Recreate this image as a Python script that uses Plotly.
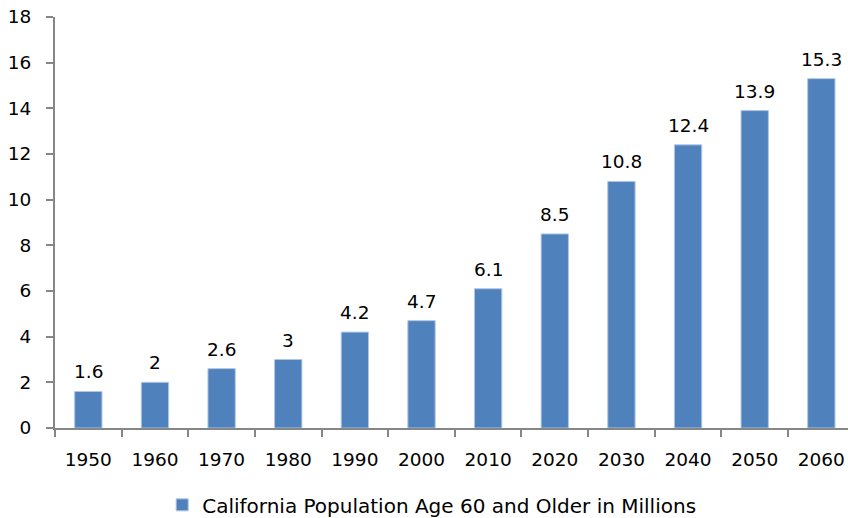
import plotly.graph_objects as go

years = ["1950", "1960", "1970", "1980", "1990", "2000", "2010", "2020", "2030", "2040", "2050", "2060"]
values = [1.6, 2, 2.6, 3, 4.2, 4.7, 6.1, 8.5, 10.8, 12.4, 13.9, 15.3]
labels = ["1.6", "2", "2.6", "3", "4.2", "4.7", "6.1", "8.5", "10.8", "12.4", "13.9", "15.3"]
series_name = "California Population Age 60 and Older in Millions"

FONT = "DejaVu Sans"
FS = 18.5
axis_color = "#868686"

fig = go.Figure(go.Bar(
    x=years, y=values, name=series_name,
    marker=dict(color="#4F81BD", line=dict(width=1, color="#B0C6E2")),
    showlegend=True,
))

for i, (v, lab) in enumerate(zip(values, labels)):
    fig.add_annotation(x=i, y=v, xref="x", yref="y", text=lab, showarrow=False,
                       yanchor="bottom", yshift=7,
                       font=dict(family=FONT, size=FS, color="#000000"))

fig.update_layout(
    width=848, height=518,
    margin=dict(l=55, r=0, t=17, b=90, autoexpand=False),
    paper_bgcolor="white", plot_bgcolor="white",
    bargap=0.59,
    font=dict(family=FONT, size=FS, color="#000000"),
    showlegend=True,
    legend=dict(orientation="h", x=0.475, xanchor="center", y=-0.187, yanchor="middle",
                font=dict(family=FONT, size=20, color="#000000")),
    xaxis=dict(
        type="category", range=[-0.5, 11.4],
        showline=True, linecolor=axis_color, linewidth=2,
        ticks="outside", tickson="boundaries", ticklen=7, tickwidth=2, tickcolor=axis_color,
        showgrid=False, tickfont=dict(family=FONT, size=FS), ticklabelstandoff=14,
        ticklabeloverflow="allow",
    ),
    yaxis=dict(
        range=[0, 18], dtick=2,
        showline=True, linecolor=axis_color, linewidth=2,
        ticks="outside", ticklen=7, tickwidth=2, tickcolor=axis_color,
        showgrid=False, zeroline=False, tickfont=dict(family=FONT, size=FS), ticklabelstandoff=11,
        ticklabeloverflow="allow",
    ),
)

fig.write_html("out.html", config={"displayModeBar": False},
               post_script="document.body.style.margin='0';")
